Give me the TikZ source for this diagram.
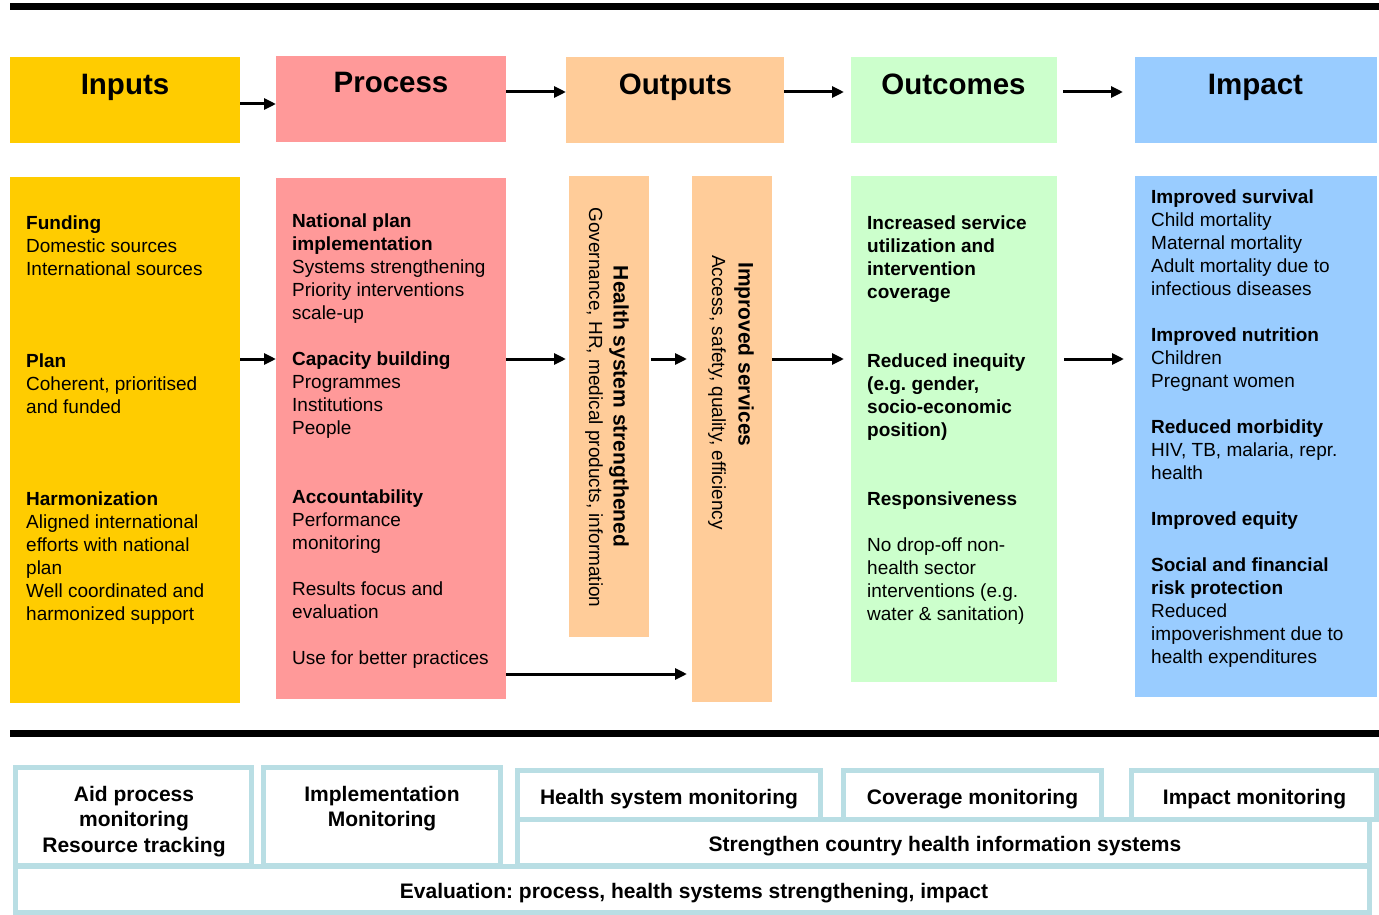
\documentclass[tikz,border=0pt]{standalone}
\usepackage{fontspec}
\setmainfont{Liberation Sans}
\usetikzlibrary{arrows.meta}
\frenchspacing

\definecolor{inputsC}{HTML}{FFCC00}
\definecolor{processC}{HTML}{FF9999}
\definecolor{outputsC}{HTML}{FFCC99}
\definecolor{outcomesC}{HTML}{CCFFCC}
\definecolor{impactC}{HTML}{99CCFF}
\definecolor{frameC}{RGB}{185,222,228}

\begin{document}
\begin{tikzpicture}[x=1pt,y=-1pt,
  panel/.style={draw=none, inner sep=0, outer sep=0},
  hdrtxt/.style={font=\fontsize{29.5}{35}\selectfont\bfseries, anchor=base, inner sep=0},
  bodytxt/.style={font=\fontsize{19}{23}\selectfont, align=left, anchor=north west, inner sep=0},
  vbold/.style={font=\fontsize{21}{25}\selectfont\bfseries, rotate=-90, inner sep=0},
  vreg/.style={font=\fontsize{19}{23}\selectfont, rotate=-90, inner sep=0},
  montxt/.style={font=\fontsize{21}{25.5}\selectfont\bfseries, inner sep=0},
  frame/.style={draw=frameC, line width=5pt, inner sep=0, outer sep=0},
  arr/.style={line width=3pt, -{Triangle[length=12pt,width=11pt]}}
]
\useasboundingbox (0,0) rectangle (1379,915);

% separator bars
\fill[black] (10,3) rectangle (1379,10);
\fill[black] (10,730) rectangle (1379,737);

% column headers
\node[panel, fill=inputsC,   minimum width=230pt, minimum height=86pt] (inH) at (125,100) {};
\node[panel, fill=processC,  minimum width=230pt, minimum height=86pt] (prH) at (391,99) {};
\node[panel, fill=outputsC,  minimum width=218pt, minimum height=86pt] (ouH) at (675,100) {};
\node[panel, fill=outcomesC, minimum width=206pt, minimum height=86pt] (ocH) at (954,100) {};
\node[panel, fill=impactC,   minimum width=242pt, minimum height=86pt] (imH) at (1256,100) {};

\node[hdrtxt] (inHt) at (125,95) {Inputs};
\node[hdrtxt] (prHt) at (391,92.5) {Process};
\node[hdrtxt] (ouHt) at (675.5,95) {Outputs};
\node[hdrtxt] (ocHt) at (953.5,95) {Outcomes};
\node[hdrtxt] (imHt) at (1255.5,95) {Impact};

% column bodies
\node[panel, fill=inputsC,   minimum width=230pt, minimum height=526pt] (inB) at (125,440) {};
\node[panel, fill=processC,  minimum width=230pt, minimum height=521pt] (prB) at (391,438.5) {};
\node[panel, fill=outputsC,  minimum width=80pt,  minimum height=461pt] (hsB) at (609,406.5) {};
\node[panel, fill=outputsC,  minimum width=80pt,  minimum height=526pt] (isB) at (732,439) {};
\node[panel, fill=outcomesC, minimum width=206pt, minimum height=506pt] (ocB) at (954,429) {};
\node[panel, fill=impactC,   minimum width=242pt, minimum height=521pt] (imB) at (1256,436.5) {};

% body texts
\node[bodytxt] (inT) at (26,213.4) {\strut\textbf{Funding}\\Domestic sources\\International sources\\[69pt]%
\textbf{Plan}\\Coherent, prioritised\\and funded\\[69pt]%
\textbf{Harmonization}\\Aligned international\\efforts with national\\plan\\Well coordinated and\\harmonized support};

\node[bodytxt] (prT) at (292,211.5) {\strut\textbf{National plan}\\\textbf{implementation}\\Systems strengthening\\Priority interventions\\scale-up\\[23pt]%
\textbf{Capacity building}\\Programmes\\Institutions\\People\\[46pt]%
\textbf{Accountability}\\Performance\\monitoring\\[23pt]%
Results focus and\\evaluation\\[23pt]%
Use for better practices};

\node[bodytxt] (ocT) at (867,212.8) {\strut\textbf{Increased service}\\\textbf{utilization and}\\\textbf{intervention}\\\textbf{coverage}\\[46pt]%
\textbf{Reduced inequity}\\\textbf{(e.g. gender,}\\\textbf{socio-economic}\\\textbf{position)}\\[46pt]%
\textbf{Responsiveness}\\[23pt]%
No drop-off non-\\health sector\\interventions (e.g.\\water \& sanitation)};

\node[bodytxt] (imT) at (1151,187.2) {\strut\textbf{Improved survival}\\Child mortality\\Maternal mortality\\Adult mortality due to\\infectious diseases\\[23pt]%
\textbf{Improved nutrition}\\Children\\Pregnant women\\[23pt]%
\textbf{Reduced morbidity}\\HIV, TB, malaria, repr.\\health\\[23pt]%
\textbf{Improved equity}\\[23pt]%
\textbf{Social and financial}\\\textbf{risk protection}\\Reduced\\impoverishment due to\\health expenditures};

% rotated output texts
\node[vbold] (hsT) at (619,406.5) {Health system strengthened};
\node[vreg]  (hsS) at (594,407.5) {Governance, HR, medical products, information};
\node[vbold, anchor=west] (isT) at (744,262) {Improved services};
\node[vreg,  anchor=west] (isS) at (717,255) {Access, safety, quality, efficiency};

% flow arrows between headers
\draw[arr] (inH.east |- 0,104) -- (prH.west |- 0,104);
\draw[arr] (prH.east |- 0,92) -- (ouH.west |- 0,92);
\draw[arr, shorten >=7pt] (ouH.east |- 0,92) -- (ocH.west |- 0,92);
\draw[arr, shorten <=6pt, shorten >=12pt] (ocH.east |- 0,92) -- (imH.west |- 0,92);

% flow arrows between bodies
\draw[arr] (inB.east |- 0,359) -- (prB.west |- 0,359);
\draw[arr, shorten >=3pt] (prB.east |- 0,359) -- (hsB.west |- 0,359);
\draw[arr, shorten <=2pt, shorten >=5pt] (hsB.east |- 0,359) -- (isB.west |- 0,359);
\draw[arr, shorten >=7pt] (isB.east |- 0,359) -- (ocB.west |- 0,359);
\draw[arr, shorten <=7pt, shorten >=11pt] (ocB.east |- 0,359) -- (imB.west |- 0,359);
\draw[arr, shorten >=5pt] (prB.east |- 0,674) -- (isB.west |- 0,674);

% monitoring frames
\node[frame, minimum width=236pt,  minimum height=98pt] (aidF)  at (133.5,816.5) {};
\node[frame, minimum width=237pt,  minimum height=98pt] (implF) at (382,816.5) {};
\node[frame, minimum width=303pt,  minimum height=49pt] (hsmF)  at (669,795) {};
\node[frame, minimum width=258pt,  minimum height=49pt] (covF)  at (972.5,795) {};
\node[frame, minimum width=245pt,  minimum height=49pt] (impF)  at (1254,795) {};
\node[frame, minimum width=852pt,  minimum height=46pt] (strF)  at (943.5,842.5) {};
\node[frame, minimum width=1354pt, minimum height=46pt] (evalF) at (692.5,889.5) {};

\node[montxt, align=center, anchor=north] (aidT)  at (134,783.15) {\strut Aid process\\monitoring\\Resource tracking};
\node[montxt, align=center, anchor=north] (implT) at (382,783.15) {\strut Implementation\\Monitoring};
\node[montxt, anchor=base] (hsmT)  at (669,804) {Health system monitoring};
\node[montxt, anchor=base] (covT)  at (972.5,804) {Coverage monitoring};
\node[montxt, anchor=base] (impT)  at (1254.5,804) {Impact monitoring};
\node[montxt, anchor=base] (strT)  at (945,851) {Strengthen country health information systems};
\node[montxt, anchor=base] (evalT) at (694,898) {Evaluation: process, health systems strengthening, impact};
\end{tikzpicture}
\end{document}
